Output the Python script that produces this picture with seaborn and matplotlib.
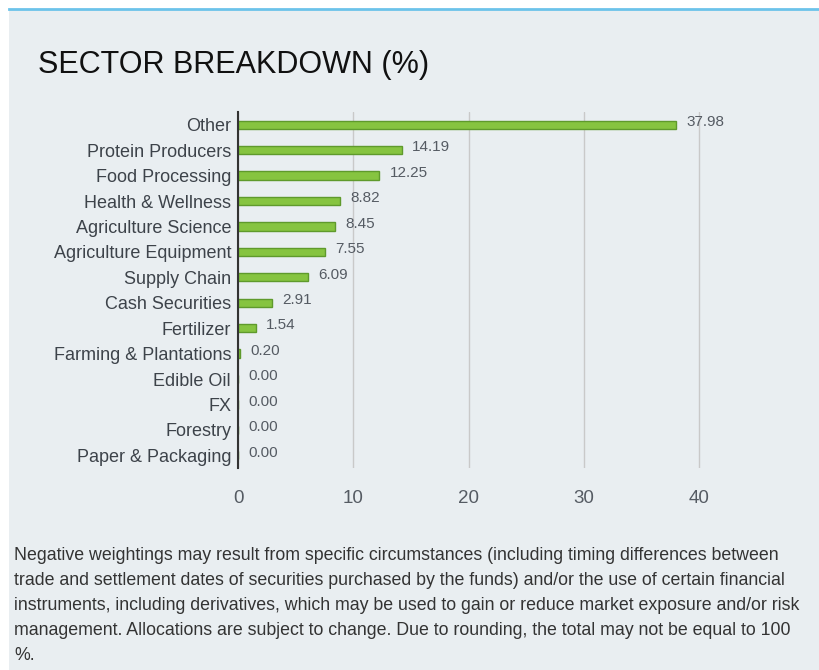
import matplotlib
matplotlib.use("Agg")
import matplotlib.pyplot as plt
import seaborn as sns
import pandas as pd

sectors = ["Other", "Protein Producers", "Food Processing", "Health & Wellness",
           "Agriculture Science", "Agriculture Equipment", "Supply Chain",
           "Cash Securities", "Fertilizer", "Farming & Plantations", "Edible Oil",
           "FX", "Forestry", "Paper & Packaging"]
weights = [37.98, 14.19, 12.25, 8.82, 8.45, 7.55, 6.09, 2.91, 1.54, 0.20,
           0.00, 0.00, 0.00, 0.00]
x_ticks = [0, 10, 20, 30, 40]

footnote = ("Negative weightings may result from specific circumstances (including timing differences between\n"
            "trade and settlement dates of securities purchased by the funds) and/or the use of certain financial\n"
            "instruments, including derivatives, which may be used to gain or reduce market exposure and/or risk\n"
            "management. Allocations are subject to change. Due to rounding, the total may not be equal to 100\n"
            "%.")

df = pd.DataFrame({"Sector": sectors, "Weight": weights})

sns.set_theme(style="white")
plt.rcParams['font.family'] = ['Liberation Sans', 'DejaVu Sans']

bg = "#e9eef1"
fig = plt.figure(figsize=(8.19, 6.70), dpi=100)
fig.patch.set_facecolor("white")

# panel background and top blue rule
panel = fig.add_axes([9/819, 0, 1 - 9/819, 1 - 9/670])
panel.set_facecolor(bg)
panel.set_xticks([])
panel.set_yticks([])
for s in ["left", "right", "bottom"]:
    panel.spines[s].set_visible(False)
panel.spines["top"].set_color("#6cc3ea")
panel.spines["top"].set_linewidth(2)

ax = fig.add_axes([238/819, 1 - 468/670, 519/819, 356/670])
ax.set_facecolor("none")
sns.barplot(data=df, x="Weight", y="Sector", orient="h", color="#86c440",
            edgecolor="#5f9a2c", linewidth=1, width=0.33, saturation=1, ax=ax)

for i, v in enumerate(weights):
    ax.annotate(f"{v:.2f}", xy=(v, i), xytext=(7.5, 2), textcoords="offset points",
                ha="left", va="center", fontsize=11, color="#555b63")

ax.set_xlim(0, 45)
ax.set_xticks(x_ticks)
ax.grid(axis="x", color="#c9c9c9", linewidth=1)
ax.set_axisbelow(True)
ax.set_xlabel("")
ax.set_ylabel("")
for s in ["top", "right", "bottom"]:
    ax.spines[s].set_visible(False)
ax.spines["left"].set_color("#333333")
ax.spines["left"].set_linewidth(1.5)
ax.tick_params(axis="x", length=0, pad=16, labelsize=13.5, labelcolor="#555b63")
ax.tick_params(axis="y", length=0, pad=5, labelsize=13, labelcolor="#3d434a")

fig.text(38/819, 1 - 65/670, "SECTOR BREAKDOWN (%)", fontsize=22,
         color="#111111", ha="left", va="center")
fig.text(14/819, 1 - 547/670, footnote, fontsize=12.8, color="#333333",
         ha="left", va="top", linespacing=1.62)

fig.savefig("out.png", dpi=100, facecolor=fig.get_facecolor())
